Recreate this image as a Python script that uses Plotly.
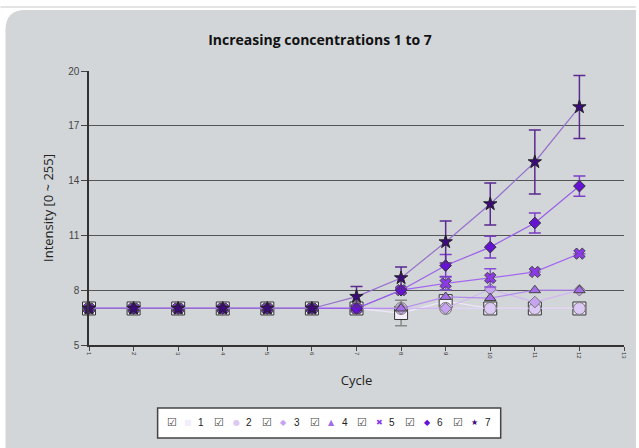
import plotly.graph_objects as go

nan = float("nan")

# ---- data ----
cycles = list(range(1, 13))
series_names = ["1", "2", "3", "4", "5", "6", "7"]
s1 = [7, 7, 7, 7, 7, 7, 7, 6.75, 7.4, 7.0, 7.0, 7.0]
s2 = [7, 7, 7, 7, 7, 7, 7, 7.0, 7.0, 7.0, 7.0, 7.0]
s3 = [7, 7, 7, 7, 7, 7, 7, 7.0, 7.0, 8.05, 7.35, 8.0]
s4 = [7, 7, 7, 7, 7, 7, 7, 7.0, 7.63, 7.57, 8.0, 8.0]
s5 = [7, 7, 7, 7, 7, 7, 7, 8.0, 8.37, 8.67, 9.0, 10.0]
s6 = [7, 7, 7, 7, 7, 7, 7, 8.0, 9.35, 10.36, 11.68, 13.7]
s7 = [7, 7, 7, 7, 7, 7, 7.65, 8.67, 10.64, 12.72, 15.02, 18.03]
e1 = [nan] * 7 + [0.7, nan, nan, nan, nan]
e5 = [nan] * 8 + [0.35, 0.5, nan, nan]
e6 = [nan] * 8 + [0.6, 0.6, 0.55, 0.55]
e7 = [nan] * 6 + [0.55, 0.6, 1.15, 1.15, 1.75, 1.73]
x_ticks = list(range(1, 14))
y_ticks = [5, 8, 11, 14, 17, 20]

values = [s1, s2, s3, s4, s5, s6, s7]
errors = [e1, None, None, None, e5, e6, e7]

# ---- styles ----
symbols = ["square", "circle", "diamond", "triangle-up", "x", "diamond", "star"]
fills = ["#f3eefb", "#dcc8f5", "#c7a2f0", "#a56ee8", "#8c3ae6", "#6512d2", "#3d0a7c"]
lines = ["#efe8fa", "#e3d3f7", "#d2b5f3", "#b58af0", "#a368ee", "#9a5ee8", "#9470cc"]
outlines = ["#333333", "#777777", "#777777", "#444444", "#444444", "#333333", "#222222"]
errcols = ["#888888", None, None, None, "#8a4fd8", "#7a40c8", "#5a2a90"]
sizes = [13, 12, 9, 10, 10, 9, 10]
legend_glyphs = ["■", "●", "◆", "▲", "✖", "◆", "★"]

W, H = 639, 448
L, R, T, B = 89, 12, 71, 103
pw, ph = W - L - R, H - T - B

def px(xp):
    return (xp - L) / pw

def py(yp):
    return (H - B - yp) / ph

fig = go.Figure()
for i in range(7):
    err = None
    if errors[i] is not None:
        err = dict(type="data", array=errors[i], visible=True, color=errcols[i],
                   thickness=1.5, width=6)
    fig.add_trace(go.Scatter(
        x=cycles, y=values[i], name=series_names[i], mode="lines+markers",
        line=dict(color=lines[i], width=1.2),
        marker=dict(symbol=symbols[i], size=sizes[i], color=fills[i],
                    line=dict(color=outlines[i], width=1)),
        error_y=err, cliponaxis=False, showlegend=False,
    ))

shapes = [
    # outer panel with rounded top-left corner
    dict(type="path", xref="paper", yref="paper", layer="below",
         path=f"M {px(5)},{py(448)} L {px(5)},{py(30)} Q {px(5)},{py(10)} {px(25)},{py(10)} "
              f"L {px(639)},{py(10)} L {px(639)},{py(448)} Z",
         fillcolor="#d3d6d9", line=dict(width=0)),
    dict(type="line", xref="paper", yref="paper", x0=px(0), x1=px(639), y0=py(7), y1=py(7),
         line=dict(color="#c8c8c8", width=1), layer="below"),
    # legend box
    dict(type="rect", xref="paper", yref="paper", x0=px(158), x1=px(503), y0=py(408), y1=py(438),
         fillcolor="white", line=dict(color="#444444", width=1.5)),
]

annotations = []
for i in range(7):
    x0 = 172 + 48 * i
    annotations.append(dict(xref="paper", yref="paper", x=px(x0), y=py(422), text="☑",
                            showarrow=False, font=dict(family="DejaVu Sans", size=11, color="#444444"),
                            xanchor="center", yanchor="middle"))
    annotations.append(dict(xref="paper", yref="paper", x=px(x0 + 17), y=py(422),
                            text=legend_glyphs[i], showarrow=False,
                            font=dict(family="DejaVu Sans", size=8, color=fills[i]),
                            xanchor="center", yanchor="middle"))
    annotations.append(dict(xref="paper", yref="paper", x=px(x0 + 30), y=py(422),
                            text=series_names[i], showarrow=False,
                            font=dict(family="Liberation Sans", size=10, color="#222222"),
                            xanchor="center", yanchor="middle"))

fig.update_layout(
    width=W, height=H,
    margin=dict(l=L, r=R, t=T, b=B),
    paper_bgcolor="white", plot_bgcolor="white",
    title=dict(text="<b>Increasing concentrations 1 to 7</b>", x=320 / W, xanchor="center",
               y=1 - 40 / H, yanchor="middle",
               font=dict(family="Open Sans", size=14, color="#111111")),
    xaxis=dict(range=[1, 13], tickvals=x_ticks, ticktext=[str(v) for v in x_ticks],
               tickangle=90, tickfont=dict(family="Liberation Sans", size=6, color="#333333"),
               ticks="outside", ticklen=4, tickcolor="#444444",
               showline=True, linecolor="#333333", linewidth=1.5, showgrid=False, zeroline=False,
               title=dict(text="Cycle", font=dict(family="Open Sans", size=13, color="#222222"),
                          standoff=18)),
    yaxis=dict(range=[5, 20], tickvals=y_ticks, ticktext=[str(v) for v in y_ticks],
               tickfont=dict(family="Liberation Sans", size=10, color="#444444"),
               ticks="outside", ticklen=6, tickcolor="#444444",
               showline=True, linecolor="#333333", linewidth=1.5,
               showgrid=True, gridcolor="#555555", gridwidth=1, zeroline=False,
               title=dict(text="Intensity [0 ~ 255]", font=dict(family="Open Sans", size=13, color="#222222"),
                          standoff=12)),
    shapes=shapes, annotations=annotations,
)

fig.write_html("out.html", config={"displayModeBar": False},
               post_script="document.body.style.margin='0';")
